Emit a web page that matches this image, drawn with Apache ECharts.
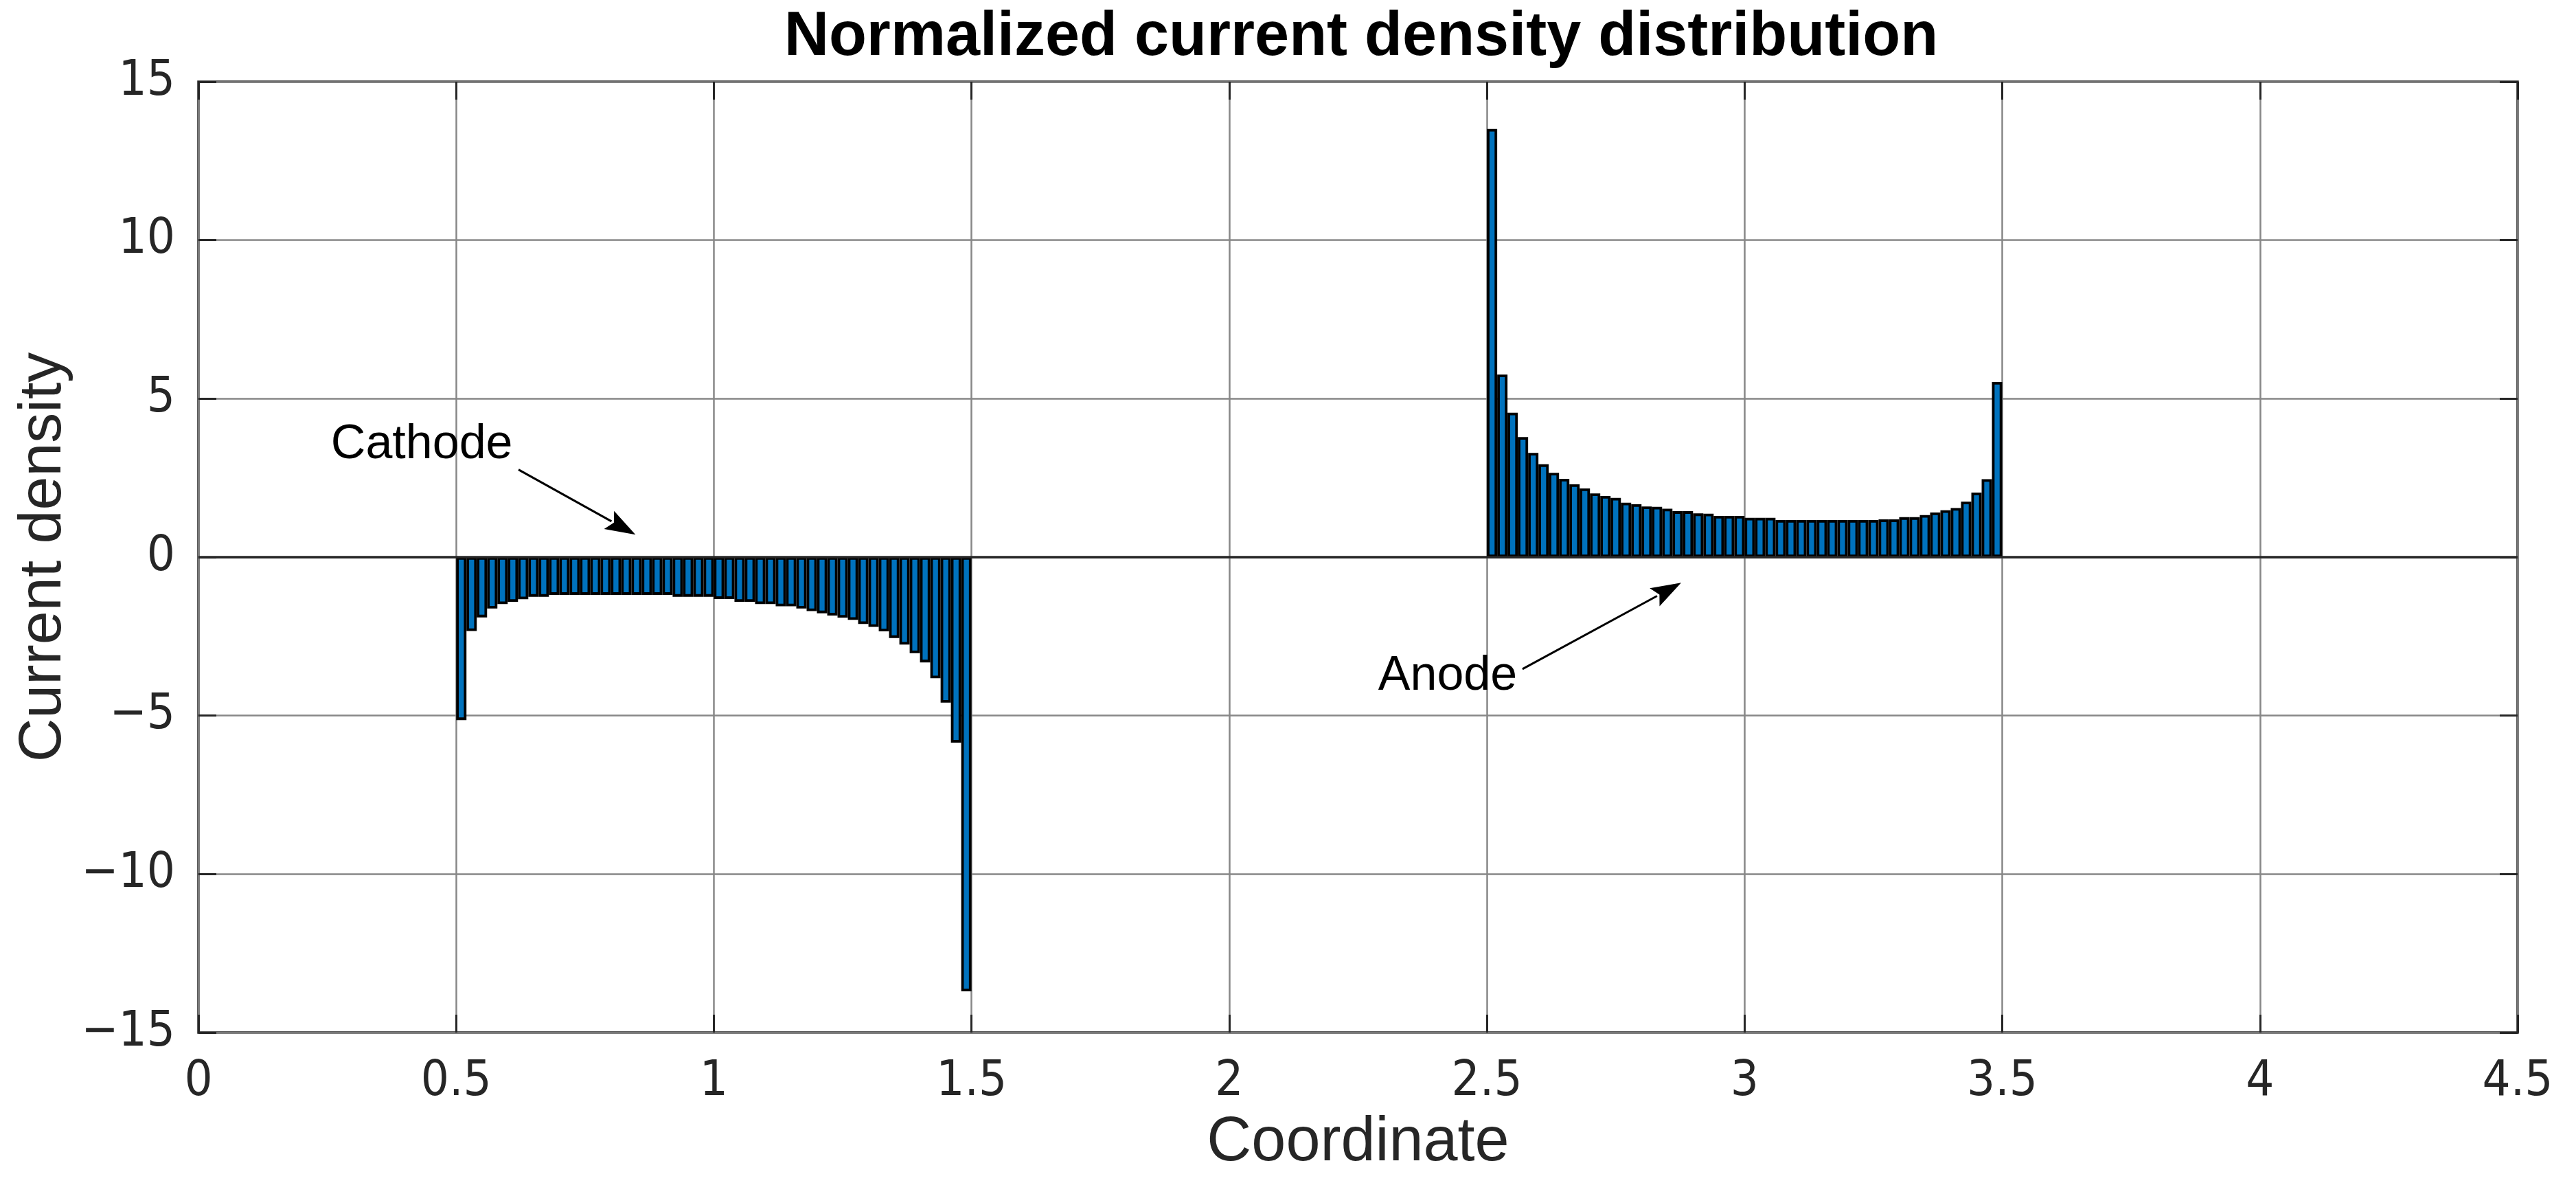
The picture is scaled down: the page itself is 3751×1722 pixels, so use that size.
<!DOCTYPE html>
<html>
<head>
<meta charset="utf-8">
<script src="https://cdn.jsdelivr.net/npm/echarts@6/dist/echarts.min.js"></script>
<style>
html,body{margin:0;padding:0;background:#ffffff;}
#c{width:3751px;height:1722px;}
</style>
</head>
<body>
<div id="c"></div>
<script>
// ---------- data ----------
const cathodeX = [0.51,0.53,0.55,0.57,0.59,0.61,0.63,0.65,0.67,0.69,0.71,0.73,0.75,0.77,0.79,0.81,0.83,0.85,0.87,0.89,
                  0.91,0.93,0.95,0.97,0.99,1.01,1.03,1.05,1.07,1.09,1.11,1.13,1.15,1.17,1.19,1.21,1.23,1.25,1.27,1.29,
                  1.31,1.33,1.35,1.37,1.39,1.41,1.43,1.45,1.47,1.49];
const cathodeY = [-5.14,-2.33,-1.90,-1.62,-1.48,-1.41,-1.33,-1.25,-1.25,-1.19,-1.19,-1.19,-1.19,-1.19,-1.19,-1.19,-1.19,-1.19,-1.19,-1.19,
                  -1.19,-1.25,-1.25,-1.25,-1.25,-1.32,-1.32,-1.41,-1.41,-1.48,-1.48,-1.55,-1.55,-1.62,-1.70,-1.77,-1.84,-1.91,-1.98,-2.11,
                  -2.20,-2.34,-2.55,-2.76,-3.03,-3.32,-3.82,-4.59,-5.85,-13.70];
const anodeX = [2.51,2.53,2.55,2.57,2.59,2.61,2.63,2.65,2.67,2.69,2.71,2.73,2.75,2.77,2.79,2.81,2.83,2.85,2.87,2.89,
                2.91,2.93,2.95,2.97,2.99,3.01,3.03,3.05,3.07,3.09,3.11,3.13,3.15,3.17,3.19,3.21,3.23,3.25,3.27,3.29,
                3.31,3.33,3.35,3.37,3.39,3.41,3.43,3.45,3.47,3.49];
const anodeY = [13.51,5.76,4.56,3.79,3.29,2.93,2.66,2.47,2.30,2.17,2.01,1.93,1.87,1.72,1.67,1.60,1.59,1.53,1.45,1.45,
                1.38,1.37,1.30,1.30,1.30,1.24,1.24,1.24,1.17,1.17,1.17,1.17,1.17,1.17,1.17,1.17,1.17,1.17,1.19,1.19,
                1.26,1.26,1.33,1.41,1.48,1.55,1.75,2.04,2.46,5.53];

const titleText = 'Normalized current density distribution';
const xName = 'Coordinate';
const yName = 'Current density';
const annotationTexts = ['Cathode', 'Anode'];

// ---------- annotation placement (data coordinates) ----------
const annotationPlacement = [
  { text: [0.257, 3.55], from: [0.621, 2.76], to: [0.848, 0.71] },
  { text: [2.289, -3.77], from: [2.569, -3.53], to: [2.877, -0.81] }
];

// ---------- chart ----------
const chart = echarts.init(document.getElementById('c'));
const DARK = '#262626';
const GRIDC = '#878787';
const TICKFONT = "'DejaVu Sans Condensed','DejaVu Sans',sans-serif";
const SANS = "'Liberation Sans', Arial, Helvetica, sans-serif";

const barData = [];
cathodeX.forEach((x, i) => barData.push([x, cathodeY[i]]));
anodeX.forEach((x, i) => barData.push([x, anodeY[i]]));

const tickStyle = { show: true, inside: true, length: 26, lineStyle: { color: DARK, width: 3 } };
const hiddenLine = { show: false, onZero: false };

chart.setOption({
  animation: false,
  backgroundColor: '#ffffff',
  title: {
    text: titleText,
    left: 1977,
    top: 5,
    textAlign: 'center',
    textStyle: { fontFamily: SANS, fontWeight: 'bold', fontSize: 90, color: '#000' }
  },
  grid: {
    left: 289, right: 85, top: 119, bottom: 219,
    show: true, borderColor: DARK, borderWidth: 3.5, backgroundColor: '#ffffff'
  },
  xAxis: [
    {
      type: 'value', min: 0, max: 4.5, interval: 0.5, position: 'bottom',
      name: xName, nameLocation: 'middle', nameGap: 116,
      nameTextStyle: { fontFamily: SANS, fontSize: 90, color: DARK },
      axisLine: hiddenLine,
      axisTick: tickStyle,
      axisLabel: { fontFamily: TICKFONT, fontSize: 72, color: DARK, margin: 36 },
      splitLine: { show: true, lineStyle: { color: GRIDC, width: 2.5 } }
    },
    {
      type: 'value', min: 0, max: 4.5, interval: 0.5, position: 'top',
      axisLine: hiddenLine, axisTick: tickStyle,
      axisLabel: { show: false }, splitLine: { show: false }
    }
  ],
  yAxis: [
    {
      type: 'value', min: -15, max: 15, interval: 5, position: 'left',
      name: yName, nameLocation: 'middle', nameGap: 178,
      nameTextStyle: { fontFamily: SANS, fontSize: 88, color: DARK },
      axisLine: hiddenLine,
      axisTick: tickStyle,
      axisLabel: {
        fontFamily: TICKFONT, fontSize: 72, color: DARK, margin: 34,
        formatter: v => (v < 0 ? '\u2212' + Math.abs(v) : String(v))
      },
      splitLine: { show: true, lineStyle: { color: GRIDC, width: 2.5 } }
    },
    {
      type: 'value', min: -15, max: 15, interval: 5, position: 'right',
      axisLine: hiddenLine, axisTick: tickStyle,
      axisLabel: { show: false }, splitLine: { show: false }
    }
  ],
  series: [
    {
      type: 'bar',
      xAxisIndex: 0, yAxisIndex: 0,
      data: barData,
      barWidth: 15,
      itemStyle: { color: '#0072BD', borderColor: '#000000', borderWidth: 3.8 },
      markLine: {
        silent: true, symbol: 'none', label: { show: false },
        lineStyle: { color: DARK, width: 3.5, type: 'solid' },
        data: [{ yAxis: 0 }]
      }
    }
  ]
});

// annotations with arrows, positioned through the chart's scales
const gfx = [];
annotationPlacement.forEach((a, k) => {
  const t = chart.convertToPixel({ gridIndex: 0 }, a.text);
  const p0 = chart.convertToPixel({ gridIndex: 0 }, a.from);
  const p1 = chart.convertToPixel({ gridIndex: 0 }, a.to);
  gfx.push({
    type: 'text', z: 100,
    style: { text: annotationTexts[k], x: t[0], y: t[1], fill: '#000', font: '70px ' + SANS, textAlign: 'left', textVerticalAlign: 'middle' }
  });
  const dx = p1[0] - p0[0], dy = p1[1] - p0[1];
  const L = Math.sqrt(dx * dx + dy * dy);
  const ux = dx / L, uy = dy / L;
  const headL = 44, headW = 15;
  const bx = p1[0] - ux * headL, by = p1[1] - uy * headL;
  gfx.push({
    type: 'line', z: 100,
    shape: { x1: p0[0], y1: p0[1], x2: bx + ux * 4, y2: by + uy * 4 },
    style: { stroke: '#000', lineWidth: 3 }
  });
  gfx.push({
    type: 'polygon', z: 100,
    shape: { points: [[p1[0], p1[1]], [bx - uy * headW, by + ux * headW], [bx + ux * 8, by + uy * 8], [bx + uy * headW, by - ux * headW]] },
    style: { fill: '#000' }
  });
});
chart.setOption({ graphic: gfx });
</script>
</body>
</html>
